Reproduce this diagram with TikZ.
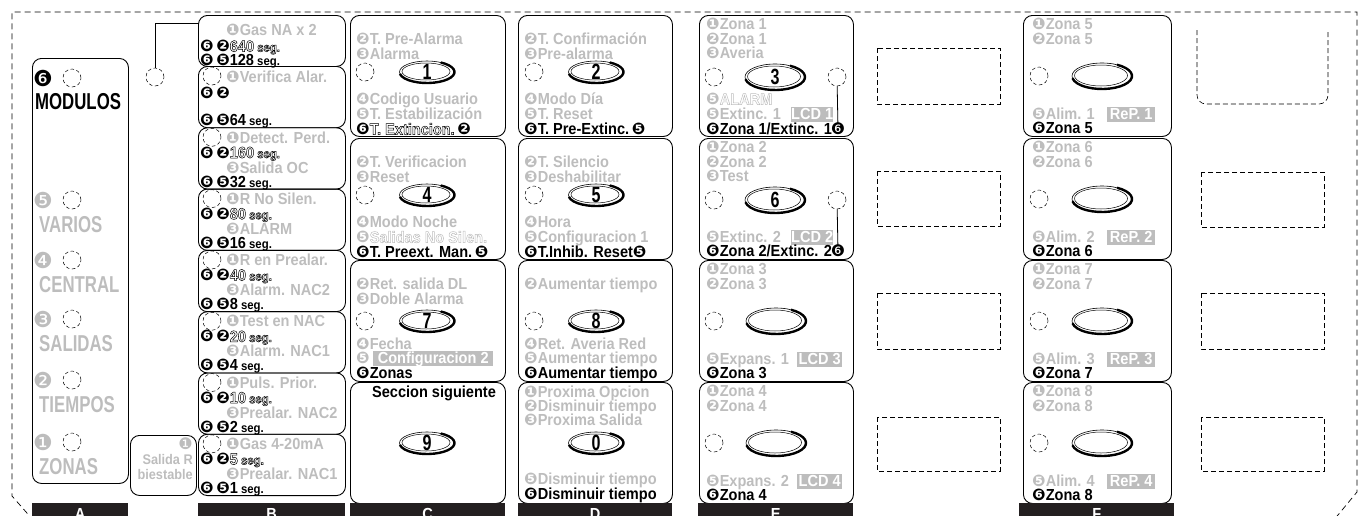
\documentclass[tikz,border=0pt]{standalone}
\usepackage{fontspec}
\setmainfont{Liberation Sans}
\newfontfamily\cond{Liberation Sans}[FakeStretch=0.73]
\newfontfamily\nar{Liberation Sans}[FakeStretch=0.91]
\newfontfamily\dv{DejaVu Sans}
\usetikzlibrary{shapes.geometric}

\definecolor{lgray}{gray}{0.74}
\definecolor{barblk}{HTML}{231F20}

\newcommand\txt{\nar\fontsize{16}{16}\selectfont\bfseries}
\newcommand\bigtxt{\cond\fontsize{23}{23}\selectfont\bfseries}
\newcommand\sml{\fontsize{12.5}{12.5}\selectfont}
\newcommand\dg[1]{{\dv\fontsize{16}{16}\selectfont\char\numexpr"2775+#1\relax}}
\newcommand\bigdg[1]{{\dv\fontsize{22}{22}\selectfont\char\numexpr"2775+#1\relax}}
\newcommand\pair[1]{\dg{6}\kern2.5pt\dg{#1}}
% hollow (outlined) letters
\newcommand\hol[1]{\special{pdf:literal direct 1 Tr 0.5 w}#1\special{pdf:literal direct 0 Tr}}
% thick lower-right rim and inner line of a key
\newcommand\rim[3]{%
  \draw[line width=2.4pt] ([shift={(#1.center)}]60:#2 and #3) arc[start angle=60, end angle=-170, x radius=#2, y radius=#3];
  \draw[line width=0.5pt] ([shift={(-1pt,0.5pt)}]#1.center) ellipse [x radius=#2-3.5pt, y radius=#3-2.5pt];}

\tikzset{
  panel/.style={draw, line width=0.9pt, rounded corners=9pt, anchor=north west, inner sep=0pt},
  spot/.style={draw, circle, dash pattern=on 3.5pt off 2.5pt, line width=0.5pt, minimum size=18pt, inner sep=0pt},
  gtxt/.style={anchor=west, inner sep=0pt, text=lgray, font=\txt, text height=11.4pt, text depth=0pt},
  btxt/.style={gtxt, text=black},
  lcd/.style={gtxt, fill=lgray, text=white, minimum height=15pt},
  keycap/.style={draw, ellipse, line width=0.6pt, inner sep=0pt, minimum width=55pt, minimum height=22pt,
    font=\cond\fontsize{22}{22}\selectfont\bfseries},
  bigkey/.style={keycap, minimum width=60pt, minimum height=26pt},
  slot/.style={draw, dash pattern=on 5pt off 3pt, line width=0.6pt},
  tab/.style={fill=barblk, text=white, font=\txt, inner sep=0pt, anchor=north west, minimum height=22pt},
}

\begin{document}
\begin{tikzpicture}[x=1pt, y=-1pt]
  \clip (0,0) rectangle (1359,515);
  % outer frame
  \draw[line width=0.7pt, dash pattern=on 6pt off 4pt] (34,521) -- (12,496) -- (12,12) -- (1357,12) -- (1357,492) -- (1333,521);

  % column A
  \node[panel, minimum width=96pt, minimum height=425pt] (modA) at (32,58) {};
  \node[inner sep=0pt] (m6) at (43,78) {\bigdg{6}};
  \node[spot] (s6) at (72,78) {};
  \node[btxt, font=\bigtxt, text height=16.5pt] (lbl6) at (35,101) {MODULOS};
  \foreach \k/\y/\name in {5/200/VARIOS,4/260/CENTRAL,3/319/SALIDAS,2/380/TIEMPOS,1/442/ZONAS} {
    \node[inner sep=0pt, text=lgray] (m\k) at (43,\y) {\bigdg{\k}};
    \node[spot] (s\k) at (72,\y) {};
    \node[gtxt, font=\bigtxt, text height=16.5pt] (lbl\k) at (39,\y+24) {\name};
  }

  % relay box
  \node[panel, minimum width=66pt, minimum height=60pt] (relay) at (130,435) {};
  \node[inner sep=0pt, text=lgray, anchor=east] (rd) at (193,444) {\dg{1}};
  \node[gtxt, anchor=east, font=\nar\fontsize{14}{14}\selectfont\bfseries, text height=10pt] (rt1) at (193,459) {Salida R};
  \node[gtxt, anchor=east, font=\nar\fontsize{14}{14}\selectfont\bfseries, text height=10pt] (rt2) at (193,474) {biestable};

  % link to first B box
  \node[spot] (link) at (155,77) {};
  \coordinate (joint) at (198,23);
  \draw[line width=0.8pt] (link.north) |- (joint);

  % column B
  \node[panel, minimum width=147pt, minimum height=51pt] (b1) at (198,15) {};
  \foreach \k in {2,...,8}
    \node[panel, minimum width=147pt, minimum height=61.3pt] (b\k) at (198,{66+61.3*(\k-2)}) {};
  \node[gtxt] (ba1) at (226,30) {\dg{1}Gas NA x 2};
  \node[btxt] (bb1) at (200,46) {\pair{2}\hol{640\sml\ seg.}};
  \node[btxt] (bd1) at (200,60) {\pair{5}128\sml\ seg.};
  \node[spot] (bs2) at (212,76) {};
  \node[gtxt] (ba2) at (226,77) {\dg{1}Verifica Alar.};
  \node[btxt] (bb2) at (200,93) {\pair{2}};
  \node[btxt] (bd2) at (200,120) {\pair{5}64\sml\ seg.};
  \foreach \k/\a/\n/\c/\m in {3/Detect. Perd./160/Salida OC/32,4/R No Silen./80/ALARM/16,5/R en Prealar./40/Alarm. NAC2/8,6/Test en NAC/20/Alarm. NAC1/4,7/Puls. Prior./10/Prealar. NAC2/2,8/Gas 4-20mA/5/Prealar. NAC1/1} {
    \pgfmathsetmacro\tp{66+61.3*(\k-2)}
    \node[spot] (bs\k) at (212,\tp+10) {};
    \node[gtxt] (ba\k) at (226,\tp+10) {\dg{1}\a};
    \node[btxt] (bb\k) at (200,\tp+25) {\pair{2}\hol{\n\sml\ seg.}};
    \node[gtxt] (bc\k) at (226,\tp+40) {\dg{3}\c};
    \node[btxt] (bd\k) at (200,\tp+54) {\pair{5}\m\sml\ seg.};
  }

  % columns C to F
  \foreach \cl/\x/\w in {c/350/155pt,d/518/154pt,e/699/154pt,f/1023/148pt}
    \foreach \i/\tp in {1/15,2/138,3/260,4/382}
      \node[panel, minimum width=\w, minimum height=121pt] (\cl\i) at (\x,\tp) {};

  % column C
  \node[gtxt] (ca1) at (356,39) {\dg{2}T. Pre-Alarma};
  \node[gtxt] (cb1) at (356,54) {\dg{3}Alarma};
  \node[spot] (cs1) at (365,72) {};
  \node[keycap] (k1) at (427,72) {1};
  \rim{k1}{27.5pt}{11pt}
  \node[gtxt] (cd1) at (356,99) {\dg{4}Codigo Usuario};
  \node[gtxt] (ce1) at (356,114) {\dg{5}T. Estabilización};
  \node[btxt] (cf1) at (356,129) {\dg{6}\hol{T. Extincion.}\,\dg{2}};

  \node[gtxt] (ca2) at (356,162) {\dg{2}T. Verificacion};
  \node[gtxt] (cb2) at (356,177) {\dg{3}Reset};
  \node[spot] (cs2) at (365,195) {};
  \node[keycap] (k4) at (427,195) {4};
  \rim{k4}{27.5pt}{11pt}
  \node[gtxt] (cd2) at (356,222) {\dg{4}Modo Noche};
  \node[gtxt] (ce2) at (356,237) {\dg{5}\hol{Salidas No Silen.}};
  \node[btxt] (cf2) at (356,252) {\dg{6}T. Preext. Man.\,\dg{5}};

  \node[gtxt] (ca3) at (356,284) {\dg{2}Ret. salida DL};
  \node[gtxt] (cb3) at (356,299) {\dg{3}Doble Alarma};
  \node[spot] (cs3) at (365,321) {};
  \node[keycap] (k7) at (427,321) {7};
  \rim{k7}{27.5pt}{11pt}
  \node[gtxt] (cd3) at (356,344) {\dg{4}Fecha};
  \node[gtxt] (ce3) at (356,358) {\dg{5}};
  \node[lcd, minimum width=120pt] (conf2) at (373,358) {Configuracion 2};
  \node[btxt] (cf3) at (356,373) {\dg{6}Zonas};

  \node[btxt, anchor=center] (next) at (434,392) {Seccion siguiente};
  \node[keycap] (k9) at (427,443) {9};
  \rim{k9}{27.5pt}{11pt}

  % column D
  \node[gtxt] (da1) at (524,39) {\dg{2}T. Confirmación};
  \node[gtxt] (db1) at (524,54) {\dg{3}Pre-alarma};
  \node[spot] (ds1) at (534,72) {};
  \node[keycap] (k2) at (596,72) {2};
  \rim{k2}{27.5pt}{11pt}
  \node[gtxt] (dd1) at (524,99) {\dg{4}Modo Día};
  \node[gtxt] (de1) at (524,114) {\dg{5}T. Reset};
  \node[btxt] (df1) at (524,129) {\dg{6}T. Pre-Extinc.\,\dg{5}};

  \node[gtxt] (da2) at (524,162) {\dg{2}T. Silencio};
  \node[gtxt] (db2) at (524,177) {\dg{3}Deshabilitar};
  \node[spot] (ds2) at (534,195) {};
  \node[keycap] (k5) at (596,195) {5};
  \rim{k5}{27.5pt}{11pt}
  \node[gtxt] (dd2) at (524,222) {\dg{4}Hora};
  \node[gtxt] (de2) at (524,237) {\dg{5}Configuracion 1};
  \node[btxt] (df2) at (524,252) {\dg{6}T.Inhib. Reset\dg{5}};

  \node[gtxt] (da3) at (524,284) {\dg{2}Aumentar tiempo};
  \node[spot] (ds3) at (534,321) {};
  \node[keycap] (k8) at (596,321) {8};
  \rim{k8}{27.5pt}{11pt}
  \node[gtxt] (dd3) at (524,344) {\dg{4}Ret. Averia Red};
  \node[gtxt] (de3) at (524,358) {\dg{5}Aumentar tiempo};
  \node[btxt] (df3) at (524,373) {\dg{6}Aumentar tiempo};

  \node[gtxt] (da4) at (524,392) {\dg{1}Proxima Opcion};
  \node[gtxt] (db4) at (524,406) {\dg{2}Disminuir tiempo};
  \node[gtxt] (dc4) at (524,420) {\dg{3}Proxima Salida};
  \node[keycap] (k0) at (596,443) {0};
  \rim{k0}{27.5pt}{11pt}
  \node[gtxt] (de4) at (524,479) {\dg{5}Disminuir tiempo};
  \node[btxt] (df4) at (524,494) {\dg{6}Disminuir tiempo};

  % column E
  \node[gtxt] (ea1) at (706,24) {\dg{1}Zona 1};
  \node[gtxt] (eb1) at (706,39) {\dg{2}Zona 1};
  \node[gtxt] (ec1) at (706,53) {\dg{3}Averia};
  \node[spot] (el1) at (714,77) {};
  \node[bigkey] (k3) at (775,77) {3};
  \rim{k3}{30pt}{13pt}
  \node[spot] (er1) at (837,77) {};
  \node[gtxt] (ed1) at (706,99) {\dg{5}\hol{ALARM}};
  \node[gtxt] (ee1) at (706,114) {\dg{5}Extinc. 1};
  \node[lcd, minimum width=42pt] (lcd1) at (791,114) {LCD 1};
  \node[btxt] (ef1) at (706,129) {\dg{6}Zona 1/Extinc. 1};
  \node[inner sep=0pt] (ez1) at (838,129) {\dg{6}};
  \draw[line width=0.8pt] (er1) -- (ez1);

  \node[gtxt] (ea2) at (706,147) {\dg{1}Zona 2};
  \node[gtxt] (eb2) at (706,162) {\dg{2}Zona 2};
  \node[gtxt] (ec2) at (706,176) {\dg{3}Test};
  \node[spot] (el2) at (714,200) {};
  \node[bigkey] (k6) at (775,200) {6};
  \rim{k6}{30pt}{13pt}
  \node[spot] (er2) at (837,200) {};
  \node[gtxt] (ee2) at (706,237) {\dg{5}Extinc. 2};
  \node[lcd, minimum width=42pt] (lcd2) at (791,237) {LCD 2};
  \node[btxt] (ef2) at (706,251) {\dg{6}Zona 2/Extinc. 2};
  \node[inner sep=0pt] (ez2) at (838,251) {\dg{6}};
  \draw[line width=0.8pt] (er2) -- (ez2);

  \foreach \i/\tp/\z/\x in {3/260/3/1,4/382/4/2} {
    \node[gtxt] (ea\i) at (706,\tp+9) {\dg{1}Zona \z};
    \node[gtxt] (eb\i) at (706,\tp+24) {\dg{2}Zona \z};
    \node[spot] (el\i) at (714,\tp+61) {};
    \node[bigkey] (ek\i) at (776,\tp+61) {};
    \rim{ek\i}{30pt}{13pt}
    \node[gtxt] (ee\i) at (706,\tp+99) {\dg{5}Expans. \x};
    \node[lcd, minimum width=45pt] (lcd\i) at (797,\tp+99) {LCD \i};
    \node[btxt] (ef\i) at (706,\tp+113) {\dg{6}Zona \z};
  }

  % column F
  \foreach \i/\tp/\z in {1/15/5,2/138/6,3/260/7,4/382/8} {
    \node[gtxt] (fa\i) at (1032,\tp+9) {\dg{1}Zona \z};
    \node[gtxt] (fb\i) at (1032,\tp+24) {\dg{2}Zona \z};
    \node[spot] (fs\i) at (1039,\tp+61) {};
    \node[bigkey] (fk\i) at (1102,\tp+61) {};
    \rim{fk\i}{30pt}{13pt}
    \node[gtxt] (fe\i) at (1032,\tp+99) {\dg{5}Alim. \i};
    \node[lcd, minimum width=48pt] (rep\i) at (1107,\tp+99) {ReP. \i};
    \node[btxt] (ff\i) at (1032,\tp+113) {\dg{6}Zona \z};
  }

  % empty slots
  \foreach \ya/\yb in {48/104,171/226,293/349,417/471}
    \draw[slot] (877,\ya) rectangle (1000,\yb);
  \draw[slot, rounded corners=9pt] (1197,30) -- (1197,104) -- (1328,104) -- (1328,30);
  \foreach \ya/\yb in {172/227,293/349,417/471}
    \draw[slot] (1201,\ya) rectangle (1324,\yb);

  % column tabs
  \foreach \l/\x/\w in {A/32/96pt,B/198/147pt,C/350/155pt,D/518/154pt,E/698/155pt,F/1019/155pt}
    \node[tab, minimum width=\w] (bar\l) at (\x,503) {\l};
\end{tikzpicture}
\end{document}
